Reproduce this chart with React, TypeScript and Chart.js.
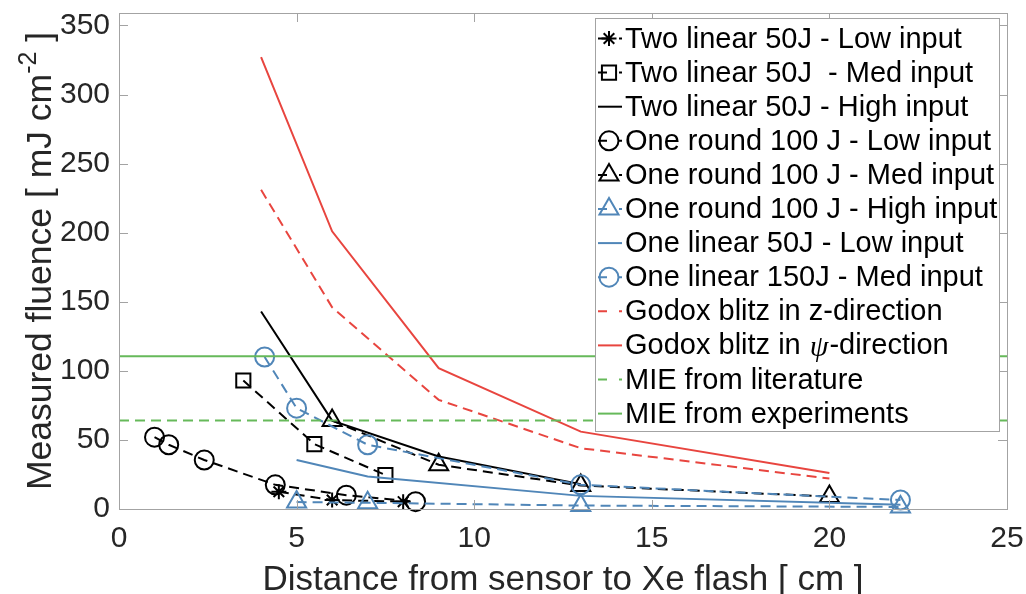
import React, { useEffect, useRef } from 'react';
import { Chart, registerables } from 'chart.js';

Chart.register(...registerables);

// ---------------- data ----------------
const xTickValues = [0, 5, 10, 15, 20, 25];
const yTickValues = [0, 50, 100, 150, 200, 250, 300, 350];

const twoLin50LowX = [4.5, 6, 8];
const twoLin50LowY = [12.5, 6.5, 5.3];

const twoLin50MedX = [3.5, 5.5, 7.5];
const twoLin50MedY = [93, 47, 24.6];

const twoLin50HighX = [4, 6, 9, 13];
const twoLin50HighY = [143, 64, 38, 18];

const oneRound100LowX = [1, 1.4, 2.4, 4.4, 6.4, 8.35];
const oneRound100LowY = [52, 46.5, 35.5, 17.5, 10, 5.3];

const oneRound100MedX = [6, 9, 13, 20];
const oneRound100MedY = [64, 32, 17, 9];

const oneRound100HighX = [5, 7, 13, 22];
const oneRound100HighY = [5, 4.5, 2.5, 1.5];

const oneLin50LowX = [5, 7, 13, 22];
const oneLin50LowY = [35.5, 23.5, 9.5, 3];

const oneLin150MedX = [4.1, 5, 7, 13, 22];
const oneLin150MedY = [110, 73, 46.5, 17.5, 6.5];

const godoxZX = [4, 6, 9, 13, 20];
const godoxZY = [231, 146, 79, 44, 22];

const godoxPsiX = [4, 6, 9, 13, 20];
const godoxPsiY = [327, 201, 102, 56, 26];

const mieX = [0, 25];
const mieLitY = [64, 64];
const mieExpY = [110.5, 110.5];

// ---------------- styles ----------------
const RED = '#e8453f';
const BLUE = '#5086b8';
const GREEN = '#66b95a';
const BLACK = '#000000';
const AXIS_GRAY = '#a3a3a3';
const TEXT_DARK = '#262626';
const FONT = '"Liberation Sans", Arial, Helvetica, sans-serif';
const DASH = [10, 6];

type Series = {
  label: string;
  xs: number[];
  ys: number[];
  color: string;
  dash: boolean;
  marker: string | null;
  r: number;
};

const series: Series[] = [
  { label: 'Two linear 50J - Low input', xs: twoLin50LowX, ys: twoLin50LowY, color: BLACK, dash: true, marker: 'star', r: 7.5 },
  { label: 'Two linear 50J  - Med input', xs: twoLin50MedX, ys: twoLin50MedY, color: BLACK, dash: true, marker: 'rect', r: 10 },
  { label: 'Two linear 50J - High input', xs: twoLin50HighX, ys: twoLin50HighY, color: BLACK, dash: false, marker: null, r: 0 },
  { label: 'One round 100 J - Low input', xs: oneRound100LowX, ys: oneRound100LowY, color: BLACK, dash: true, marker: 'circle', r: 9.5 },
  { label: 'One round 100 J - Med input', xs: oneRound100MedX, ys: oneRound100MedY, color: BLACK, dash: true, marker: 'triangle', r: 11 },
  { label: 'One round 100 J - High input', xs: oneRound100HighX, ys: oneRound100HighY, color: BLUE, dash: true, marker: 'triangle', r: 11 },
  { label: 'One linear 50J - Low input', xs: oneLin50LowX, ys: oneLin50LowY, color: BLUE, dash: false, marker: null, r: 0 },
  { label: 'One linear 150J - Med input', xs: oneLin150MedX, ys: oneLin150MedY, color: BLUE, dash: true, marker: 'circle', r: 9.5 },
  { label: 'Godox blitz in z-direction', xs: godoxZX, ys: godoxZY, color: RED, dash: true, marker: null, r: 0 },
  { label: 'Godox blitz in ψ-direction', xs: godoxPsiX, ys: godoxPsiY, color: RED, dash: false, marker: null, r: 0 },
  { label: 'MIE from literature', xs: mieX, ys: mieLitY, color: GREEN, dash: true, marker: null, r: 0 },
  { label: 'MIE from experiments', xs: mieX, ys: mieExpY, color: GREEN, dash: false, marker: null, r: 0 },
];

function drawMarker(ctx: CanvasRenderingContext2D, style: string, x: number, y: number, r: number) {
  ctx.beginPath();
  if (style === 'circle') {
    ctx.arc(x, y, r, 0, Math.PI * 2);
  } else if (style === 'rect') {
    const s = r * Math.SQRT1_2;
    ctx.rect(x - s, y - s, 2 * s, 2 * s);
  } else if (style === 'triangle') {
    const w = r * Math.sin(Math.PI / 3);
    ctx.moveTo(x, y - r);
    ctx.lineTo(x + w, y + r / 2);
    ctx.lineTo(x - w, y + r / 2);
    ctx.closePath();
  } else if (style === 'star') {
    for (let k = 0; k < 4; k++) {
      const a = (k * Math.PI) / 4;
      ctx.moveTo(x - Math.cos(a) * r, y - Math.sin(a) * r);
      ctx.lineTo(x + Math.cos(a) * r, y + Math.sin(a) * r);
    }
  }
  ctx.stroke();
}

const decorPlugin = {
  id: 'decor',
  afterDatasetsDraw(chart: any) {
    const ctx: CanvasRenderingContext2D = chart.ctx;
    const { left, right, top, bottom } = chart.chartArea;
    const xs = chart.scales.x;
    const ys = chart.scales.y;
    ctx.save();
    ctx.strokeStyle = AXIS_GRAY;
    ctx.lineWidth = 1;
    ctx.setLineDash([]);
    ctx.strokeRect(Math.round(left) + 0.5, Math.round(top) + 0.5, Math.round(right - left), Math.round(bottom - top));
    const tl = 9;
    ctx.beginPath();
    for (const v of yTickValues) {
      const py = Math.round(ys.getPixelForValue(v)) + 0.5;
      ctx.moveTo(left, py);
      ctx.lineTo(left + tl, py);
      ctx.moveTo(right, py);
      ctx.lineTo(right - tl, py);
    }
    for (const v of xTickValues) {
      const px = Math.round(xs.getPixelForValue(v)) + 0.5;
      ctx.moveTo(px, bottom);
      ctx.lineTo(px, bottom - tl);
      ctx.moveTo(px, top);
      ctx.lineTo(px, top + tl);
    }
    ctx.stroke();
    ctx.restore();
  },
  afterDraw(chart: any) {
    const ctx: CanvasRenderingContext2D = chart.ctx;
    const { left, right, top, bottom } = chart.chartArea;
    ctx.save();
    // axis titles
    ctx.fillStyle = TEXT_DARK;
    ctx.font = `35px ${FONT}`;
    ctx.textAlign = 'center';
    ctx.textBaseline = 'alphabetic';
    ctx.fillText('Distance from sensor to Xe flash [ cm ]', (left + right) / 2, 590);

    // y title with superscript
    const main = 'Measured fluence [ mJ cm';
    const sup = '-2';
    const tail = ' ]';
    const big = `35.5px ${FONT}`;
    const small = `25px ${FONT}`;
    ctx.font = big;
    const wMain = ctx.measureText(main).width;
    const wTail = ctx.measureText(tail).width;
    ctx.font = small;
    const wSup = ctx.measureText(sup).width;
    const total = wMain + wSup + wTail;
    ctx.translate(51, (top + bottom) / 2);
    ctx.rotate(-Math.PI / 2);
    ctx.textAlign = 'left';
    let cx = -total / 2;
    ctx.font = big;
    ctx.fillText(main, cx, 0);
    cx += wMain;
    ctx.font = small;
    ctx.fillText(sup, cx, -15);
    cx += wSup;
    ctx.font = big;
    ctx.fillText(tail, cx, 0);
    ctx.restore();

    // legend
    ctx.save();
    const bx = 595, by = 18, bw = 404, bh = 413;
    ctx.fillStyle = '#ffffff';
    ctx.fillRect(bx, by, bw, bh);
    ctx.strokeStyle = AXIS_GRAY;
    ctx.lineWidth = 1;
    ctx.strokeRect(bx + 0.5, by + 0.5, bw, bh);
    const rowH = 34.1;
    const y0 = 38.5;
    series.forEach((s, i) => {
      const cy = y0 + rowH * i;
      ctx.strokeStyle = s.color;
      ctx.lineWidth = 2;
      ctx.setLineDash(s.dash ? [9, 12] : []);
      ctx.beginPath();
      ctx.moveTo(598, cy);
      ctx.lineTo(622, cy);
      ctx.stroke();
      ctx.setLineDash([]);
      if (s.marker) {
        drawMarker(ctx, s.marker, 609, cy, s.r);
      }
      ctx.fillStyle = '#000000';
      ctx.textAlign = 'left';
      ctx.textBaseline = 'middle';
      const tx = 625;
      if (s.label.includes('ψ')) {
        const [a, b] = s.label.split('ψ');
        ctx.font = `29px ${FONT}`;
        ctx.fillText(a, tx, cy + 1);
        const wa = ctx.measureText(a).width;
        ctx.font = `italic 30px "Liberation Serif", "DejaVu Serif", serif`;
        ctx.fillText('ψ', tx + wa + 1, cy + 3);
        const wp = ctx.measureText('ψ').width;
        ctx.font = `29px ${FONT}`;
        ctx.fillText(b, tx + wa + wp + 2, cy + 1);
      } else {
        ctx.font = `29px ${FONT}`;
        ctx.fillText(s.label, tx, cy + 1);
      }
    });
    ctx.restore();
  },
};

export default function App() {
  const ref = useRef<HTMLCanvasElement | null>(null);

  useEffect(() => {
    if (!ref.current) return;
    const datasets = series.map((s, i) => ({
      label: s.label,
      data: s.xs.map((x, k) => ({ x, y: s.ys[k] })),
      showLine: true,
      borderColor: s.color,
      borderWidth: 2,
      borderDash: s.dash ? DASH : [],
      backgroundColor: s.color,
      pointStyle: s.marker ? (s.marker as any) : false,
      pointRadius: s.marker ? s.r : 0,
      pointHoverRadius: s.marker ? s.r : 0,
      pointBorderColor: s.color,
      pointBackgroundColor: 'rgba(0,0,0,0)',
      pointBorderWidth: 2,
      tension: 0,
      clip: false as any,
      order: series.length - i,
    }));

    const chart = new Chart(ref.current, {
      type: 'scatter',
      data: { datasets: datasets as any },
      options: {
        responsive: false,
        animation: false,
        devicePixelRatio: 1,
        layout: { padding: { top: 12, right: 19, left: 0, bottom: 0 } },
        plugins: {
          legend: { display: false },
          tooltip: { enabled: false },
          title: { display: false },
        },
        scales: {
          x: {
            type: 'linear',
            min: 0,
            max: 25,
            afterFit: (s: any) => {
              s.height = 85;
              s.paddingLeft = 0;
              s.paddingRight = 0;
            },
            afterBuildTicks: (s: any) => {
              s.ticks = xTickValues.map((v) => ({ value: v }));
            },
            grid: { display: false, drawTicks: false },
            border: { display: false },
            ticks: {
              padding: 12,
              color: TEXT_DARK,
              font: { family: FONT, size: 30 },
              maxRotation: 0,
            },
          },
          y: {
            type: 'linear',
            min: 0,
            max: 359,
            afterFit: (s: any) => {
              s.width = 119;
              s.paddingTop = 0;
              s.paddingBottom = 0;
            },
            afterBuildTicks: (s: any) => {
              s.ticks = yTickValues.map((v) => ({ value: v }));
            },
            grid: { display: false, drawTicks: false },
            border: { display: false },
            ticks: {
              padding: 9,
              color: TEXT_DARK,
              font: { family: FONT, size: 30 },
            },
          },
        },
      },
      plugins: [decorPlugin],
    });
    return () => chart.destroy();
  }, []);

  return (
    <div style={{ position: 'absolute', left: 0, top: 0, width: 1026, height: 594, background: '#ffffff' }}>
      <canvas ref={ref} width={1026} height={594} style={{ display: 'block' }} />
    </div>
  );
}
